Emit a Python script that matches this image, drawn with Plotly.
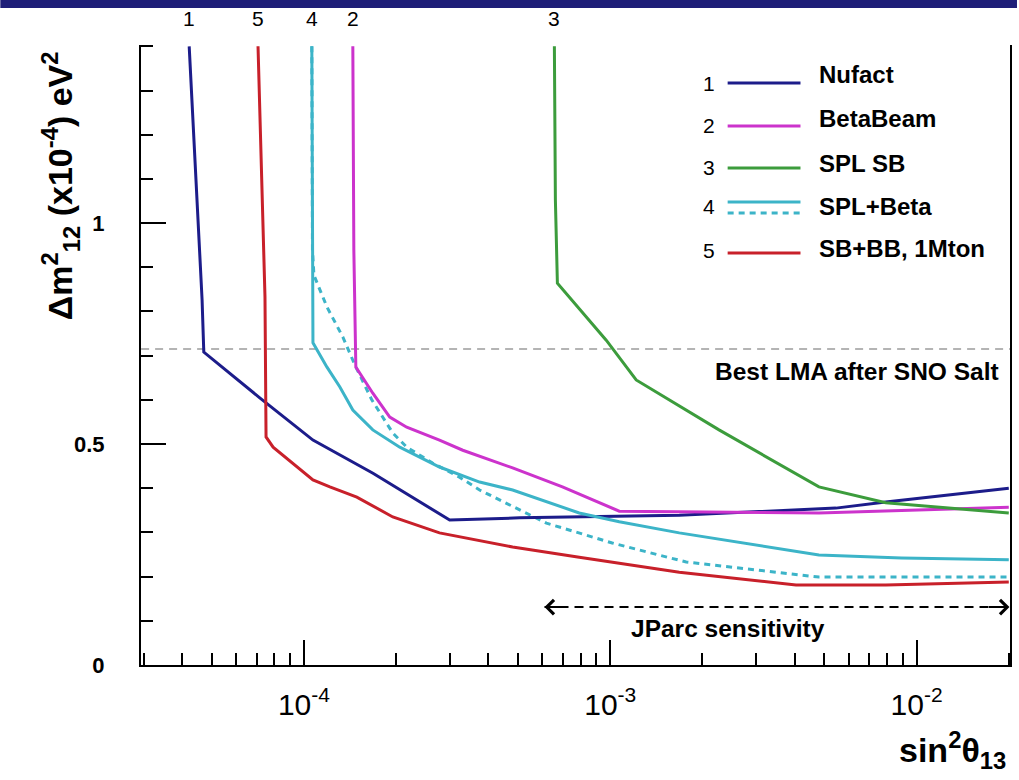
import numpy as np
import plotly.graph_objects as go

# ---------------- data ----------------
nufact_x = [4.22e-5, 4.45e-5, 4.65e-5, 4.71e-5, 7.19e-5, 1.07e-4, 1.68e-4, 2.99e-4,
            5.06e-4, 1.68e-3, 5.45e-3, 7.93e-3, 2.0e-2]
nufact_y = [1.40, 1.097, 0.826, 0.708, 0.604, 0.509, 0.434, 0.328,
            0.333, 0.339, 0.355, 0.369, 0.400]

beta_x = [1.444e-4, 1.455e-4, 1.477e-4, 1.678e-4, 1.906e-4, 2.165e-4, 2.77e-4, 3.30e-4,
          4.80e-4, 6.98e-4, 1.07e-3, 4.80e-3, 2.0e-2]
beta_y = [1.40, 0.939, 0.674, 0.615, 0.561, 0.538, 0.509, 0.486,
          0.446, 0.403, 0.348, 0.344, 0.357]

splsb_x = [6.57e-4, 6.62e-4, 6.72e-4, 9.70e-4, 1.215e-3, 2.265e-3, 4.80e-3, 6.14e-3, 7.93e-3, 2.0e-2]
splsb_y = [1.40, 1.052, 0.864, 0.735, 0.645, 0.532, 0.403, 0.385, 0.367, 0.344]

splbeta_x = [1.061e-4, 1.066e-4, 1.07e-4, 1.189e-4, 1.31e-4, 1.444e-4, 1.678e-4, 2.055e-4,
             2.77e-4, 3.745e-4, 4.80e-4, 7.92e-4, 1.07e-3, 1.68e-3, 4.80e-3, 8.93e-3, 2.0e-2]
splbeta_y = [1.40, 0.939, 0.729, 0.674, 0.629, 0.577, 0.532, 0.493,
             0.448, 0.414, 0.396, 0.344, 0.324, 0.299, 0.249, 0.242, 0.238]

splbeta_dash_x = [1.061e-4, 1.066e-4, 1.078e-4, 1.189e-4, 1.34e-4, 1.466e-4, 1.665e-4, 1.95e-4,
                  2.165e-4, 2.63e-4, 3.22e-4, 3.745e-4, 6.19e-4, 1.015e-3, 1.77e-3, 4.80e-3, 2.0e-2]
splbeta_dash_y = [1.40, 0.939, 0.882, 0.810, 0.742, 0.679, 0.600, 0.525,
                  0.493, 0.457, 0.425, 0.396, 0.321, 0.276, 0.233, 0.199, 0.199]

sbbb_x = [7.08e-5, 7.30e-5, 7.46e-5, 7.52e-5, 7.93e-5, 1.07e-4, 1.215e-4, 1.488e-4,
          1.95e-4, 2.77e-4, 4.80e-4, 7.92e-4, 1.68e-3, 4.04e-3, 7.93e-3, 2.0e-2]
sbbb_y = [1.40, 1.052, 0.833, 0.516, 0.493, 0.419, 0.403, 0.380,
          0.335, 0.299, 0.267, 0.244, 0.210, 0.181, 0.181, 0.188]

lma_x = [2.94e-5, 2.02e-2]
lma_y = [0.715, 0.715]

jparc_x = [6.1e-4, 2.01e-2]
jparc_y = [0.131, 0.131]

series_names = ["Nufact", "BetaBeam", "SPL SB", "SPL+Beta", "SB+BB, 1Mton"]
series_nums = ["1", "2", "3", "4", "5"]
series_colors = ["#1c1c8a", "#cc33cc", "#3c9c3c", "#3cb4c8", "#c8202a"]

x_tickvals = [1e-4, 1e-3, 1e-2]
x_ticktext = ["10<sup>-4</sup>", "10<sup>-3</sup>", "10<sup>-2</sup>"]
y_tickvals = [0, 0.5, 1]
y_ticktext = ["0", "0.5", "1"]

# ---------------- figure ----------------
W, H = 1019, 780
L, R, T, B = 141, 7, 45, 115
FONT = "Liberation Sans, Arial, sans-serif"

fig = go.Figure()

curves = [(nufact_x, nufact_y), (beta_x, beta_y), (splsb_x, splsb_y),
          (splbeta_x, splbeta_y), (sbbb_x, sbbb_y)]

# reference lines
fig.add_trace(go.Scatter(x=lma_x, y=lma_y, mode="lines",
                         line=dict(color="#b4b4b4", width=2, dash="8px,6px"),
                         hoverinfo="skip"))
fig.add_trace(go.Scatter(x=jparc_x, y=jparc_y, mode="lines",
                         line=dict(color="black", width=2, dash="9px,6px"),
                         hoverinfo="skip"))

fig.add_trace(go.Scatter(x=splbeta_dash_x, y=splbeta_dash_y, mode="lines",
                         line=dict(color=series_colors[3], width=3, dash="6px,5px")))
for (cx, cy), col, name in zip(curves, series_colors, series_names):
    fig.add_trace(go.Scatter(x=cx, y=cy, mode="lines", name=name,
                             line=dict(color=col, width=3)))

minor_x = [k * 10.0 ** e for e in range(-5, -1) for k in range(2, 10)]

fig.update_xaxes(type="log", range=[-4.532, -1.695],
                 showline=True, linecolor="black", linewidth=2, mirror=False,
                 showgrid=False, zeroline=False,
                 ticks="inside", ticklen=25, tickwidth=2, tickcolor="black",
                 tickmode="array", tickvals=x_tickvals, ticktext=x_ticktext,
                 tickfont=dict(family=FONT, size=30, color="black"),
                 ticklabelstandoff=12,
                 minor=dict(tickmode="array", tickvals=minor_x, ticks="inside",
                            ticklen=12, tickwidth=2, tickcolor="black", showgrid=False))
fig.update_yaxes(range=[0, 1.403],
                 showline=True, linecolor="black", linewidth=2, mirror=True,
                 showgrid=False, zeroline=False,
                 ticks="inside", ticklen=25, tickwidth=2, tickcolor="black",
                 tickmode="array", tickvals=y_tickvals, ticktext=y_ticktext,
                 tickfont=dict(family=FONT, size=22, color="black", weight="bold"),
                 ticklabelstandoff=30,
                 minor=dict(dtick=0.1, tick0=0, ticks="inside", ticklen=12,
                            tickwidth=2, tickcolor="black", showgrid=False))

def px2paper_x(px):
    return (px - L) / (W - L - R)

def px2paper_y(py):
    return (H - B - py) / (H - T - B)

ann = []
shapes = []

# labels above curve tops
for (cx, cy), num in zip(curves, series_nums):
    ann.append(dict(x=np.log10(cx[0]), y=px2paper_y(18), xref="x", yref="paper",
                    text=num, showarrow=False, xanchor="center", yanchor="middle",
                    font=dict(family=FONT, size=21, color="black")))

# legend (custom, numbered)
leg_line_y = [83, 126, 168, 202, 253]
leg_text_y = [75, 118, 163, 207, 249]
leg_num_y = [83, 125, 167, 207, 250]
for i in range(5):
    ann.append(dict(x=px2paper_x(710), y=px2paper_y(leg_num_y[i]), xref="paper", yref="paper",
                    text=series_nums[i], showarrow=False, xanchor="center", yanchor="middle",
                    font=dict(family=FONT, size=21, color="black")))
    ann.append(dict(x=px2paper_x(819), y=px2paper_y(leg_text_y[i]), xref="paper", yref="paper",
                    text=series_names[i], showarrow=False, xanchor="left", yanchor="middle",
                    font=dict(family=FONT, size=24, color="black", weight="bold")))
    shapes.append(dict(type="line", xref="paper", yref="paper",
                       x0=px2paper_x(729), x1=px2paper_x(802),
                       y0=px2paper_y(leg_line_y[i]), y1=px2paper_y(leg_line_y[i]),
                       line=dict(color=series_colors[i], width=3)))
shapes.append(dict(type="line", xref="paper", yref="paper",
                   x0=px2paper_x(729), x1=px2paper_x(802),
                   y0=px2paper_y(213), y1=px2paper_y(213),
                   line=dict(color=series_colors[3], width=3, dash="6px,5px")))

# annotations in plot
ann.append(dict(x=px2paper_x(1003), y=px2paper_y(372), xref="paper", yref="paper",
                text="Best LMA after SNO Salt", showarrow=False,
                xanchor="right", yanchor="middle",
                font=dict(family=FONT, size=24.5, color="black", weight="bold")))
ann.append(dict(x=px2paper_x(630), y=px2paper_y(628), xref="paper", yref="paper",
                text="JParc sensitivity", showarrow=False,
                xanchor="left", yanchor="middle",
                font=dict(family=FONT, size=24.5, color="black", weight="bold")))
# JParc arrow heads
ann.append(dict(x=np.log10(jparc_x[0]), y=jparc_y[0], xref="x", yref="y",
                ax=22, ay=0, text="", showarrow=True, arrowhead=4, arrowsize=1.4,
                arrowwidth=2, arrowcolor="black"))
ann.append(dict(x=np.log10(jparc_x[1]), y=jparc_y[1], xref="x", yref="y",
                ax=-22, ay=0, text="", showarrow=True, arrowhead=4, arrowsize=1.4,
                arrowwidth=2, arrowcolor="black"))

# axis titles
ann.append(dict(x=px2paper_x(1010), y=px2paper_y(750), xref="paper", yref="paper",
                text="sin<sup>2</sup>θ<sub>13</sub>", showarrow=False,
                xanchor="right", yanchor="middle",
                font=dict(family=FONT, size=34, color="black", weight="bold")))
ann.append(dict(x=px2paper_x(60), y=px2paper_y(186), xref="paper", yref="paper",
                text="Δm<sup>2</sup><sub>12</sub> (x10<sup>-4</sup>) eV<sup>2</sup>",
                showarrow=False, textangle=-90, xanchor="center", yanchor="middle",
                font=dict(family=FONT, size=34, color="black", weight="bold")))

# slide header band
shapes.append(dict(type="rect", xref="paper", yref="paper",
                   x0=px2paper_x(0), x1=px2paper_x(W), y0=px2paper_y(8), y1=px2paper_y(0),
                   fillcolor="#1e1e78", line=dict(width=0), layer="above"))

fig.update_layout(width=W, height=H, margin=dict(l=L, r=R, t=T, b=B),
                  paper_bgcolor="white", plot_bgcolor="white",
                  showlegend=False, annotations=ann, shapes=shapes,
                  font=dict(family=FONT, color="black"))

fig.write_html("out.html")
